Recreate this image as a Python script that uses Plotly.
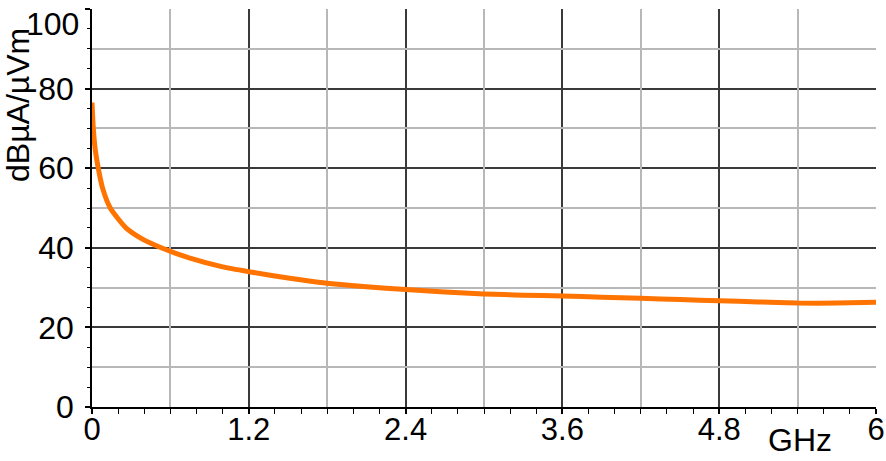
import plotly.graph_objects as go

# Data
freq_ghz = [0.0, 0.01, 0.025, 0.048, 0.081, 0.14, 0.26, 0.39, 0.53, 0.75, 1.0, 1.2,
            1.5, 1.8, 2.1, 2.4, 2.7, 3.0, 3.3, 3.6, 3.9, 4.2, 4.5, 4.8, 5.1, 5.4, 5.7, 6.0]
level = [76.5, 70.0, 64.6, 60.0, 55.0, 50.0, 45.0, 42.1, 40.0, 37.4, 35.2, 34.0,
         32.4, 31.1, 30.2, 29.5, 28.9, 28.4, 28.1, 27.9, 27.6, 27.3, 27.0, 26.7, 26.4, 26.1, 26.1, 26.3]

x_major = [0, 1.2, 2.4, 3.6, 4.8, 6]
x_labels = ["0", "1.2", "2.4", "3.6", "4.8", "6"]
x_minor_grid = [0.6, 1.8, 3.0, 4.2, 5.4]
y_major = [0, 20, 40, 60, 80, 100]
y_labels = ["0", "20", "40", "60", "80", "100"]
y_minor_grid = [10, 30, 50, 70, 90]

y_title = "dBµA/µVm"
x_unit = "GHz"

FONT = "Liberation Sans, Arial, sans-serif"
DARK = "#3a3a3a"
LIGHT = "#b8b8b8"

fig = go.Figure()
fig.add_trace(go.Scatter(
    x=freq_ghz, y=level, mode="lines",
    line=dict(color="#ff7300", width=5, shape="spline", smoothing=0.6),
    hoverinfo="skip", showlegend=False, xaxis="x", yaxis="y",
))
# invisible trace to anchor overlay axes
fig.add_trace(go.Scatter(x=[None], y=[None], xaxis="x2", yaxis="y2", showlegend=False))

# top label is nudged down inside the figure, as in the reference
y_ticktext = y_labels[:-1] + [""]

fig.update_layout(
    width=886, height=461,
    margin=dict(l=92, r=10, t=9, b=54, autoexpand=False),
    paper_bgcolor="white", plot_bgcolor="white",
    font=dict(family=FONT, size=32, color="black"),
    xaxis=dict(
        range=[0, 6], tickvals=x_major, ticktext=x_labels,
        showgrid=True, gridcolor=DARK, gridwidth=1.5,
        showline=True, linecolor="black", linewidth=1.5,
        ticks="outside", ticklen=5, tickcolor="black", tickwidth=1.5,
        minor=dict(dtick=0.2, tick0=0, ticks="outside", ticklen=5, tickcolor="black", tickwidth=1.2, showgrid=False),
        zeroline=False, tickfont=dict(size=31), ticklabelstandoff=-11,
        automargin=False, ticklabeloverflow="allow",
    ),
    xaxis2=dict(
        range=[0, 6], overlaying="x", tickvals=x_minor_grid,
        showgrid=True, gridcolor=LIGHT, gridwidth=1.5,
        showticklabels=False, ticks="", showline=False, zeroline=False, automargin=False,
    ),
    yaxis=dict(
        range=[0, 100], tickvals=y_major, ticktext=y_ticktext,
        showgrid=True, gridcolor=DARK, gridwidth=1.5,
        showline=True, linecolor="black", linewidth=1.5,
        ticks="outside", ticklen=5, tickcolor="black", tickwidth=1.5,
        minor=dict(dtick=5, tick0=0, ticks="outside", ticklen=3, tickcolor="black", tickwidth=1.2, showgrid=False),
        zeroline=False, tickfont=dict(size=32), ticklabelstandoff=5,
        automargin=False, ticklabeloverflow="allow",
    ),
    yaxis2=dict(
        range=[0, 100], overlaying="y", tickvals=y_minor_grid,
        showgrid=True, gridcolor=LIGHT, gridwidth=1.5,
        showticklabels=False, ticks="", showline=False, zeroline=False, automargin=False,
    ),
    annotations=[
        dict(text=y_labels[-1], xref="paper", yref="y", x=0, y=y_major[-1],
             xanchor="right", yanchor="top", xshift=-11, yshift=5,
             showarrow=False, font=dict(size=32)),
        dict(text=y_title, textangle=-90, xref="paper", yref="paper",
             x=-(92 + 2) / 784, y=(407 - 105) / 398, xanchor="left", yanchor="middle",
             showarrow=False, font=dict(size=32)),
        dict(text=x_unit, xref="paper", yref="paper",
             x=(800 - 92) / 784, y=-(440 - 407) / 398, xanchor="center", yanchor="middle",
             showarrow=False, font=dict(size=32)),
    ],
)

fig.write_html(
    "out.html",
    config={"displayModeBar": False},
    post_script="document.body.style.margin='0';document.body.style.overflow='hidden';",
)
